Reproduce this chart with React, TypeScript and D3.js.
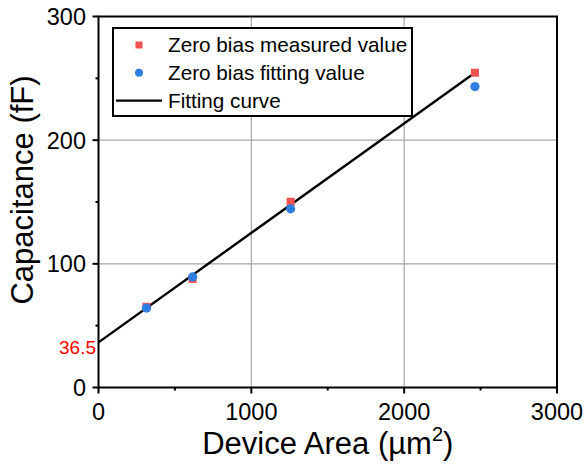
import React from "react";
import * as d3 from "d3";

// Device areas (µm²) and capacitances (fF)
const areas = [314, 616, 1257, 2463];
const measured = [65.3, 87.8, 150.2, 254.5];
const fitted = [64.2, 89.4, 144.5, 243.3];

// Linear fit C = intercept + slope * area
const intercept = 36.5;
const slope = 0.0885;
const fitRange = [0, 2440];

const xTicks = [0, 1000, 2000, 3000];
const yTicks = [0, 100, 200, 300];
const xMinorTicks = [500, 1500, 2500];
const yMinorTicks = [50, 150, 250];

const legendItems = [
  { kind: "square", label: "Zero bias measured value" },
  { kind: "circle", label: "Zero bias fitting value" },
  { kind: "line", label: "Fitting curve" },
];

const W = 586;
const H = 466;
const FONT = "'Liberation Sans', Arial, Helvetica, sans-serif";
const RED = "#f05252";
const BLUE = "#2f7de1";

export default function App() {
  const x = d3.scaleLinear().domain([0, 3000]).range([98.5, 557]);
  const y = d3.scaleLinear().domain([0, 300]).range([387.5, 16.5]);

  const fitLine = d3
    .line<number>()
    .x((a) => x(a))
    .y((a) => y(intercept + slope * a));

  const [x0, x1] = x.range();
  const [y0, y1] = y.range();

  return (
    <svg
      width={W}
      height={H}
      style={{ position: "absolute", left: 0, top: 0, background: "#fff" }}
      fontFamily={FONT}
    >
      {/* grid */}
      {xTicks.slice(1, -1).map((t) => (
        <line key={"gx" + t} x1={x(t)} x2={x(t)} y1={y0} y2={y1} stroke="#a6a6a6" strokeWidth={1.2} />
      ))}
      {yTicks.slice(1, -1).map((t) => (
        <line key={"gy" + t} x1={x0} x2={x1} y1={y(t)} y2={y(t)} stroke="#a6a6a6" strokeWidth={1.2} />
      ))}

      {/* fitting curve */}
      <path d={fitLine(fitRange) || ""} fill="none" stroke="#000" strokeWidth={2.4} />

      {/* measured values */}
      {areas.map((a, i) => (
        <rect key={"m" + i} x={x(a) - 4} y={y(measured[i]) - 4} width={8} height={8} fill={RED} />
      ))}
      {/* fitted values */}
      {areas.map((a, i) => (
        <circle key={"f" + i} cx={x(a)} cy={y(fitted[i])} r={4.6} fill={BLUE} />
      ))}

      {/* frame */}
      <rect x={x0} y={y1} width={x1 - x0} height={y0 - y1} fill="none" stroke="#000" strokeWidth={2} />

      {/* x ticks */}
      {xTicks.map((t) => (
        <g key={"xt" + t}>
          <line x1={x(t)} x2={x(t)} y1={y0} y2={y0 + 6} stroke="#000" strokeWidth={2} />
          <text x={x(t)} y={419.5} fontSize={23.5} textAnchor="middle" fill="#000">
            {t}
          </text>
        </g>
      ))}
      {xMinorTicks.map((t) => (
        <line key={"xm" + t} x1={x(t)} x2={x(t)} y1={y0} y2={y0 + 3} stroke="#000" strokeWidth={2} />
      ))}

      {/* y ticks */}
      {yTicks.map((t) => (
        <g key={"yt" + t}>
          <line x1={x0 - 6} x2={x0} y1={y(t)} y2={y(t)} stroke="#000" strokeWidth={2} />
          <text x={86} y={y(t) + 8.5} fontSize={23.5} textAnchor="end" fill="#000">
            {t}
          </text>
        </g>
      ))}
      {yMinorTicks.map((t) => (
        <line key={"ym" + t} x1={x0 - 3} x2={x0} y1={y(t)} y2={y(t)} stroke="#000" strokeWidth={2} />
      ))}

      {/* intercept label */}
      <text x={96} y={y(intercept) + 12} fontSize={19} textAnchor="end" fill="#ff0000">
        {intercept}
      </text>

      {/* axis titles */}
      <text x={(x0 + x1) / 2} y={454} fontSize={31} textAnchor="middle" fill="#000">
        Device Area (µm
        <tspan fontSize={20} dy={-13}>2</tspan>
        <tspan dy={13}>)</tspan>
      </text>
      <text
        transform={`translate(33, 190) rotate(-90)`}
        fontSize={31}
        textAnchor="middle"
        fill="#000"
      >
        Capacitance (fF)
      </text>

      {/* legend */}
      <rect x={113} y={28} width={299} height={88} fill="#fff" stroke="#000" strokeWidth={2} />
      {legendItems.map((item, i) => {
        const cy = 45 + i * 27.8;
        return (
          <g key={item.label}>
            {item.kind === "square" && <rect x={135.5} y={cy - 3.5} width={7} height={7} fill={RED} />}
            {item.kind === "circle" && <circle cx={139} cy={cy} r={4} fill={BLUE} />}
            {item.kind === "line" && (
              <line x1={116} x2={162} y1={cy} y2={cy} stroke="#000" strokeWidth={2.4} />
            )}
            <text x={168} y={cy + 7} fontSize={20.7} fill="#000">
              {item.label}
            </text>
          </g>
        );
      })}
    </svg>
  );
}
